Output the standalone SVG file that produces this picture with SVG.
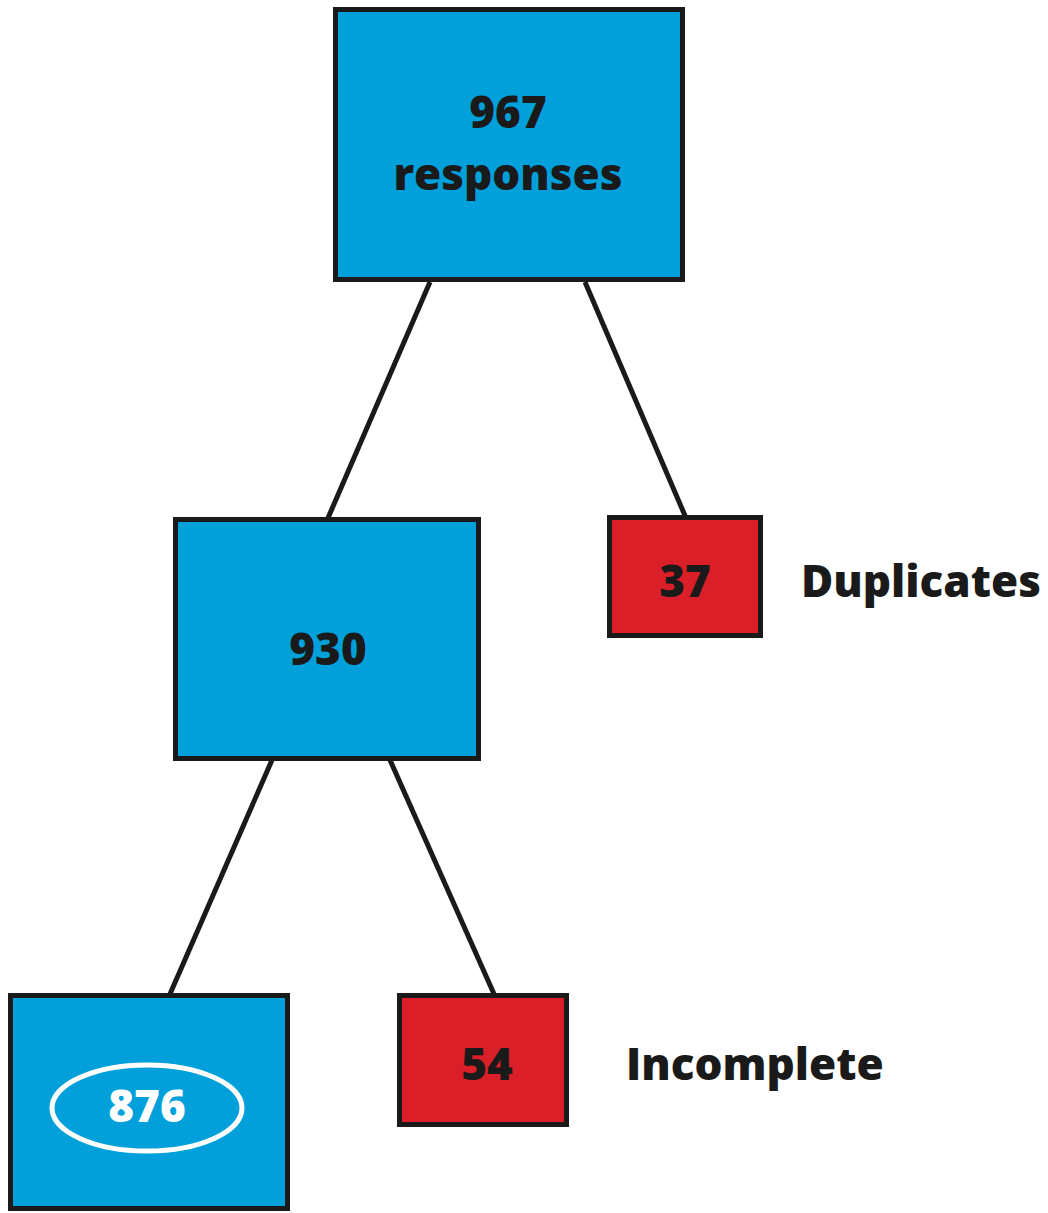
<svg xmlns="http://www.w3.org/2000/svg" width="1048" height="1213" viewBox="0 0 1048 1213">
<style>
.blue{fill:#02A0DA;stroke:#1a1a1a;stroke-width:5}
.red{fill:#DA1F29;stroke:#1a1a1a;stroke-width:5}
.t{font-family:"Open Sans","Noto Sans",sans-serif;font-weight:800;font-size:44px;fill:#1a1a1a;text-anchor:middle}
.lab{font-family:"Open Sans","Noto Sans",sans-serif;font-weight:800;font-size:44px;fill:#1a1a1a}
.conn{stroke:#1a1a1a;stroke-width:5;fill:none}
</style>
<rect width="1048" height="1213" fill="#ffffff"/>
<g id="connectors">
<line class="conn" x1="430" y1="282" x2="328" y2="518"/>
<line class="conn" x1="585" y1="282" x2="686" y2="518"/>
<line class="conn" x1="272" y1="760" x2="170" y2="994"/>
<line class="conn" x1="390" y1="760" x2="494" y2="994"/>
</g>
<g id="n967">
<rect class="blue" x="335.5" y="9.5" width="347" height="270"/>
<text class="t" x="508" y="128">967</text>
<text class="t" x="508" y="190">responses</text>
</g>
<g id="n930">
<rect class="blue" x="175.5" y="519.5" width="303" height="239"/>
<text class="t" x="328" y="665">930</text>
</g>
<g id="n37">
<rect class="red" x="609.5" y="517.5" width="151" height="118"/>
<text class="t" x="685" y="597">37</text>
</g>
<text class="lab" x="801" y="597">Duplicates</text>
<g id="n54">
<rect class="red" x="399.5" y="995.5" width="167" height="129"/>
<text class="t" x="487" y="1080">54</text>
</g>
<text class="lab" x="626" y="1080">Incomplete</text>
<g id="n876">
<rect class="blue" x="10.5" y="995.5" width="277" height="213"/>
<ellipse cx="147" cy="1108" rx="95" ry="43" fill="none" stroke="#ffffff" stroke-width="5"/>
<text class="t" x="147" y="1122" style="fill:#ffffff">876</text>
</g>
</svg>
